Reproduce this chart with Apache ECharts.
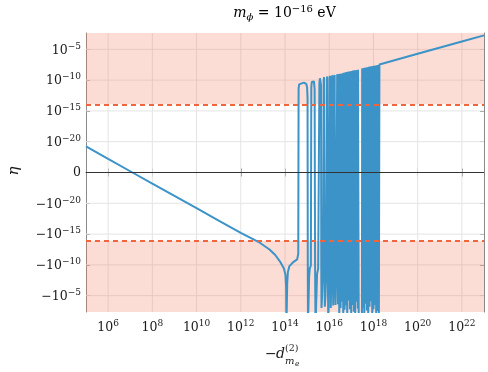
<!DOCTYPE html>
<html>
<head>
<meta charset="utf-8">
<script src="https://cdn.jsdelivr.net/npm/echarts@6/dist/echarts.min.js"></script>
<style>
  html, body { margin: 0; padding: 0; background: #fff; }
  #chart { width: 488px; height: 372px; }
</style>
</head>
<body>
<div id="chart"></div>
<script>
/* axes: x is log10(-d), y is signed log10|eta| shifted by 25 (0 <-> |eta| < 1e-25) */
const xTicks = [6, 8, 10, 12, 14, 16, 18, 20, 22];
const yTicks = [-20, -15, -10, -5, 0, 5, 10, 15, 20];
const xRange = [5, 23];
const yRange = [-22.65, 22.65];
const limitLevel = 11.07;   // dashed bound, |eta| ~ 1.2e-14

/* smooth branch before the oscillations */
const smoothBranch = [
  [5.0, 4.23], [6.0, 2.2], [7.1, 0.0], [8.0, -1.8], [9.0, -3.8], [10.0, -5.8],
  [11.0, -7.8], [12.0, -9.8], [12.86, -11.4], [13.3, -12.5], [13.56, -13.4],
  [13.8, -14.6], [13.95, -15.6], [14.02, -16.6], [14.05, -18.5], [14.065, -25],
  [14.09, -25], [14.1, -18], [14.13, -16.2], [14.2, -15.2], [14.39, -14.5],
  [14.55, -14.1], [14.6, -13.2]
];

/* first, well separated oscillations */
const sparseHumps = [
  [14.615, 13.6], [14.64, 14.3], [14.7, 14.55], [14.85, 14.6], [14.96, 14.4], [15.0, 13.8],
  [15.02, 12], [15.03, -14.5], [15.04, -25], [15.07, -25], [15.09, -17], [15.12, -15.6], [15.17, -15.1],
  [15.19, 13.8], [15.21, 14.7], [15.26, 15.0], [15.31, 14.8], [15.34, 13.5], [15.36, -15],
  [15.38, -25], [15.42, -25], [15.45, -16.5], [15.5, -15.6], [15.54, -15.3],
  [15.555, 14.5], [15.58, 15.3], [15.61, 15.2], [15.63, 14.2], [15.64, -15], [15.65, -22.0],
  [15.68, -20], [15.72, -15.8],
  [15.75, 15.0], [15.765, 15.5], [15.78, 15.2], [15.79, -16], [15.8, -21.8], [15.83, -20], [15.86, -16.5],
  [15.895, 15.2], [15.91, 15.6], [15.925, 15.3], [15.935, -16], [15.96, -25], [15.98, -17.5],
  [16.015, 15.3], [16.03, 15.7], [16.045, 15.3], [16.055, -16], [16.07, -22], [16.1, -17],
  [16.125, 15.4], [16.14, 15.8], [16.155, 15.5], [16.165, -16], [16.18, -21.6], [16.205, -18],
  [16.23, 15.5], [16.245, 15.85], [16.26, 15.6], [16.27, -16], [16.285, -21.5], [16.31, -17]
];

/* dense oscillation blocks: rise positions, crest and trough levels */
const blockAx = [16.36, 16.42, 16.48, 16.54, 16.60, 16.66, 16.72, 16.78, 16.84, 16.90, 16.96, 17.02, 17.08, 17.14, 17.20, 17.26, 17.30];
const blockAtop = [15.95, 16.0, 16.05, 16.05, 16.1, 16.2, 16.25, 16.3, 16.35, 16.4, 16.45, 16.5, 16.55, 16.6, 16.62, 16.66, 16.7];
const blockAlow = [-21.4, -25, -22.0, -21.0, -25, -22.3, -21.6, -25, -20.8, -22.2, -25, -21.5, -22.6, -25, -21.0, -22.1, -25];
const gapAB = [[17.33, -25], [17.48, -25]];
const blockBx = [17.49, 17.55, 17.61, 17.67, 17.73, 17.79, 17.85, 17.91, 17.97, 18.03, 18.09, 18.15, 18.21];
const blockBtop = [16.9, 16.95, 17.0, 17.05, 17.1, 17.15, 17.2, 17.25, 17.3, 17.33, 17.37, 17.4, 17.45];
const blockBlow = [-22.0, -25, -21.3, -22.4, -25, -21.8, -20.9, -25, -22.2, -21.5, -25, -22.5, -25];

/* straight tail after the oscillations */
const tailLine = [[18.27, 17.54], [20, 19.27], [22, 21.27], [23, 22.27]];

function block(xs, tops, lows) {
  let pts = [];
  xs.forEach((x, i) => {
    pts.push([x, tops[i]]);
    pts.push([x + 0.025, tops[i]]);
    pts.push([x + 0.035, lows[i]]);
  });
  return pts;
}

const curve = [].concat(
  smoothBranch, sparseHumps,
  block(blockAx, blockAtop, blockAlow), gapAB,
  block(blockBx, blockBtop, blockBlow), tailLine
);

const serif = 'DejaVu Serif, serif';
const ink = '#1a1a1a';
const frame = '#8a8a8a';
const blue = '#3c93c8';
const red = '#f0653e';
const gridColor = '#e4e4e4';

const supRich = {
  b: { fontSize: 12.5, fontFamily: serif, color: ink, verticalAlign: 'bottom' },
  s: { fontSize: 9, fontFamily: serif, color: ink, verticalAlign: 'bottom', padding: [0, 0, 6, 0] }
};

function yLabel(v) {
  if (v === 0) return '{b|0}';
  return '{b|' + (v < 0 ? '−' : '') + '10}{s|−' + (25 - Math.abs(v)) + '}';
}

/* grid lines as plain two-point series so they stay under the curve */
function gridLine(pts) {
  return {
    type: 'line', data: pts, z: 0, silent: true, showSymbol: false, symbol: 'none',
    lineStyle: { color: gridColor, width: 1 }
  };
}
const gridSeries = xTicks.map(v => gridLine([[v, yRange[0]], [v, yRange[1]]]))
  .concat(yTicks.filter(v => v !== 0).map(v => gridLine([[xRange[0], v], [xRange[1], v]])));

const chart = echarts.init(document.getElementById('chart'), null, { renderer: 'canvas' });
chart.setOption({
  animation: false,
  grid: { left: 86, right: 4, top: 33, bottom: 60 },
  xAxis: [
    {
      type: 'value', min: xRange[0], max: xRange[1],
      axisLine: { lineStyle: { color: frame, width: 1 } },
      axisTick: { inside: true, length: 4, customValues: xTicks, lineStyle: { color: frame } },
      axisLabel: { customValues: xTicks, margin: 7, formatter: v => '{b|10}{s|' + v + '}', rich: supRich },
      splitLine: { show: false }
    },
    {
      type: 'value', position: 'top', min: xRange[0], max: xRange[1],
      axisLine: { lineStyle: { color: frame, width: 1 } },
      axisTick: { inside: true, length: 4, customValues: xTicks, lineStyle: { color: frame } },
      axisLabel: { show: false },
      splitLine: { show: false }
    }
  ],
  yAxis: [
    {
      type: 'value', min: yRange[0], max: yRange[1],
      axisLine: { show: true, lineStyle: { color: frame, width: 1 } },
      axisTick: { show: true, inside: true, length: 4, customValues: yTicks, lineStyle: { color: frame } },
      axisLabel: { customValues: yTicks, margin: 5, formatter: yLabel, rich: supRich },
      splitLine: { show: false }
    },
    {
      type: 'value', position: 'right', min: yRange[0], max: yRange[1],
      axisLine: { show: true, lineStyle: { color: frame, width: 1 } },
      axisTick: { show: true, inside: true, length: 4, customValues: yTicks, lineStyle: { color: frame } },
      axisLabel: { show: false },
      splitLine: { show: false }
    }
  ],
  series: gridSeries.concat([
    {
      // excluded regions
      type: 'line', data: [], z: 1, silent: true,
      markArea: {
        silent: true, z: 1,
        itemStyle: { color: 'rgba(240, 122, 92, 0.26)' },
        data: [
          [{ yAxis: limitLevel }, { yAxis: yRange[1] }],
          [{ yAxis: yRange[0] }, { yAxis: -limitLevel }]
        ]
      }
    },
    {
      type: 'line', data: curve, zlevel: 1,
      showSymbol: false, symbol: 'none', sampling: null, clip: true,
      lineStyle: { color: blue, width: 2 }
    },
    {
      // zero line and bounds
      type: 'line', data: [], zlevel: 2, silent: true,
      markLine: {
        silent: true, zlevel: 2, symbol: 'none', label: { show: false },
        data: [
          { yAxis: 0, lineStyle: { color: '#333', width: 1, type: 'solid' } },
          { yAxis: limitLevel, lineStyle: { color: red, width: 2, type: [5, 4] } },
          { yAxis: -limitLevel, lineStyle: { color: red, width: 2, type: [5, 4] } }
        ]
      }
    }
  ]),
  graphic: [
    {
      type: 'text', x: 284.5, y: 13,
      style: {
        text: '{i|m}{sub|ϕ}{n| = 10}{sup|−16}{n| eV}',
        align: 'center', verticalAlign: 'middle',
        rich: {
          i: { fontSize: 14, fontFamily: serif, fontStyle: 'italic', color: ink, verticalAlign: 'bottom', padding: [0, 0, 2, 0] },
          n: { fontSize: 14, fontFamily: serif, color: ink, verticalAlign: 'bottom', padding: [0, 0, 2, 0] },
          sub: { fontSize: 10, fontFamily: serif, fontStyle: 'italic', color: ink, verticalAlign: 'bottom' },
          sup: { fontSize: 10, fontFamily: serif, color: ink, verticalAlign: 'bottom', padding: [0, 0, 8, 0] }
        }
      }
    },
    {
      type: 'text', x: 14, y: 171, rotation: Math.PI / 2,
      style: { text: 'η', fontSize: 15, fontFamily: serif, fontStyle: 'italic', fill: ink, align: 'center', verticalAlign: 'middle' }
    },
    {
      type: 'text', x: 265, y: 354,
      style: { text: '−', fontSize: 14, fontFamily: serif, fill: ink, align: 'left', verticalAlign: 'middle' }
    },
    {
      type: 'text', x: 276, y: 354,
      style: { text: 'd', fontSize: 14, fontFamily: serif, fontStyle: 'italic', fill: ink, align: 'left', verticalAlign: 'middle' }
    },
    {
      type: 'text', x: 285, y: 349,
      style: { text: '(2)', fontSize: 9.5, fontFamily: serif, fill: ink, align: 'left', verticalAlign: 'middle' }
    },
    {
      type: 'text', x: 285, y: 361,
      style: { text: 'm', fontSize: 10, fontFamily: serif, fontStyle: 'italic', fill: ink, align: 'left', verticalAlign: 'middle' }
    },
    {
      type: 'text', x: 295, y: 364,
      style: { text: 'e', fontSize: 7.5, fontFamily: serif, fontStyle: 'italic', fill: ink, align: 'left', verticalAlign: 'middle' }
    }
  ]
});
</script>
</body>
</html>
